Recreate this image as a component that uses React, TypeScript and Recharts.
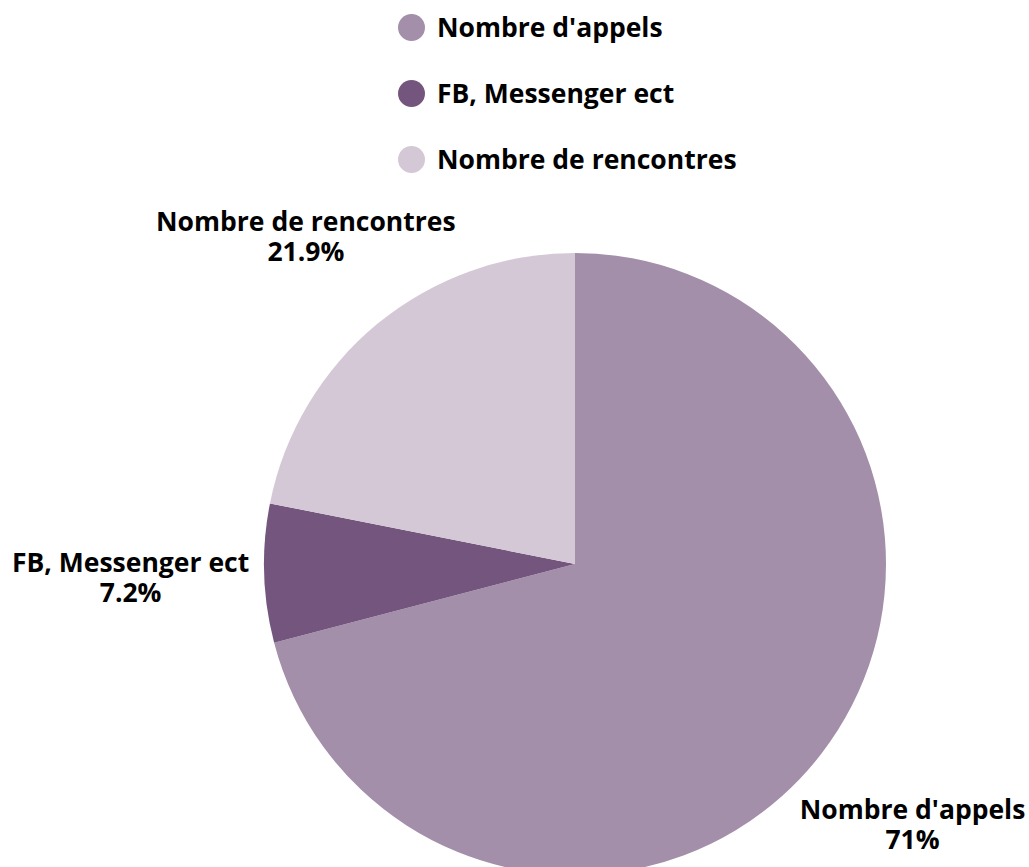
import { PieChart, Pie, Cell } from "recharts";

const categories = ["Nombre d'appels", "FB, Messenger ect", "Nombre de rencontres"];
const shares = [71, 7.2, 21.9];
const colors = ["#A48FAA", "#74557E", "#D4C8D6"];

const data = categories.map((name, i) => ({ name, value: shares[i] }));

const FONT = "'Open Sans', sans-serif";
const FONT_SIZE = 26.5;
const RAD = Math.PI / 180;

// measure label text so the box corner sits a fixed gap outside the pie
let ctx: CanvasRenderingContext2D | null = null;
const textWidth = (s: string) => {
    if (!ctx) ctx = document.createElement("canvas").getContext("2d");
    if (!ctx) return s.length * 15;
    ctx.font = `700 ${FONT_SIZE}px 'Open Sans'`;
    return ctx.measureText(s).width;
};

const renderLabel = (props: any) => {
    const { cx, cy, midAngle, outerRadius, index } = props;
    const pct = `${shares[index]}%`;
    const hw = Math.max(textWidth(categories[index]), textWidth(pct)) / 2;
    const hh = 24.5;
    const c = Math.cos(-midAngle * RAD);
    const s = Math.sin(-midAngle * RAD);
    const a = hw * Math.sign(c);
    const b = hh * Math.sign(s);
    const R0 = outerRadius + 15;
    const k = c * a + s * b;
    const r = k + Math.sqrt(k * k - (a * a + b * b - R0 * R0));
    const x = cx + r * c;
    const y = cy + r * s;
    return (
        <text
            x={x}
            y={y}
            textAnchor="middle"
            fill="#000"
            fontFamily={FONT}
            fontWeight={700}
            fontSize={FONT_SIZE}
        >
            <tspan x={x} y={y - 5.5}>{categories[index]}</tspan>
            <tspan x={x} y={y + 24.5}>{pct}</tspan>
        </text>
    );
};

function ChartLegend() {
    return (
        <div
            style={{
                position: "absolute",
                top: -6,
                left: 398,
                fontFamily: FONT,
                fontWeight: 700,
                fontSize: FONT_SIZE,
            }}
        >
            {categories.map((c, i) => (
                <div key={c} style={{ display: "flex", alignItems: "center", height: 66 }}>
                    <span
                        style={{
                            width: 27,
                            height: 27,
                            borderRadius: "50%",
                            background: colors[i],
                            marginRight: 12,
                        }}
                    />
                    <span>{c}</span>
                </div>
            ))}
        </div>
    );
}

export default function App() {
    return (
        <div style={{ position: "absolute", left: 0, top: 0, width: 1029, height: 867, background: "#fff" }}>
            <PieChart width={1029} height={867} margin={{ top: 0, right: 0, bottom: 0, left: 0 }}>
                <Pie
                    data={data}
                    dataKey="value"
                    nameKey="name"
                    cx={575}
                    cy={564}
                    outerRadius={311}
                    startAngle={90}
                    endAngle={-270}
                    stroke="none"
                    label={renderLabel}
                    labelLine={false}
                    isAnimationActive={false}
                >
                    {data.map((d, i) => (
                        <Cell key={d.name} fill={colors[i]} />
                    ))}
                </Pie>
            </PieChart>
            <ChartLegend />
        </div>
    );
}
